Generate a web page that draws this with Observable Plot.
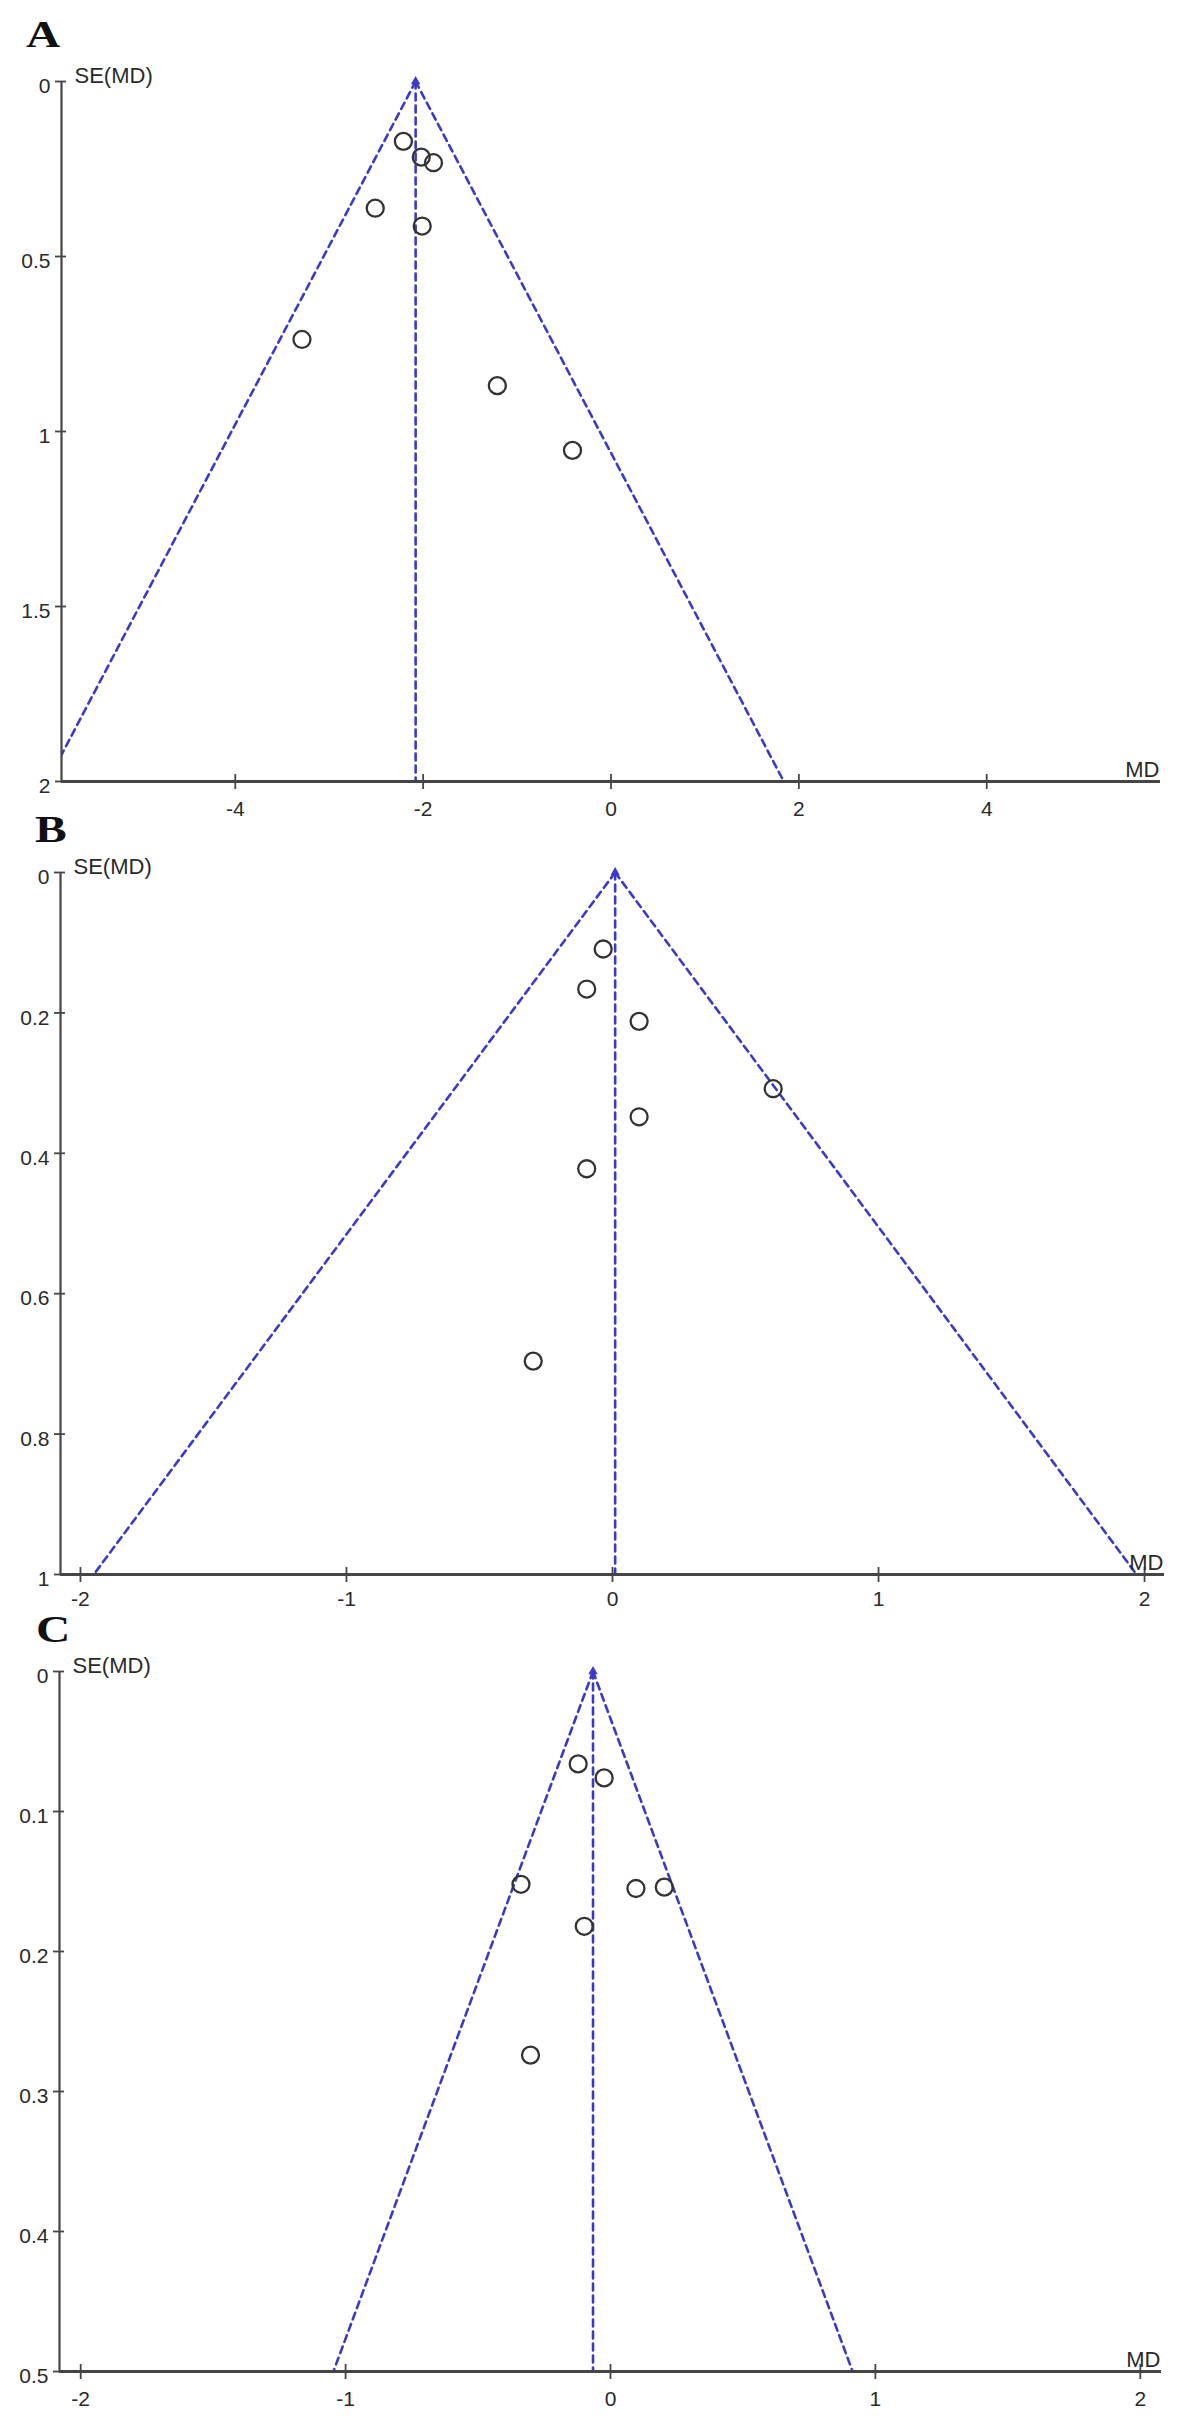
<!DOCTYPE html>
<html>
<head>
<meta charset="utf-8">
<script src="https://cdn.jsdelivr.net/npm/d3@7"></script>
<script src="https://cdn.jsdelivr.net/npm/@observablehq/plot@0.6"></script>
<style>
  body { margin: 0; background: #fff; }
  #wrap { position: relative; width: 1181px; height: 2422px; overflow: hidden; background: #fff; }
  .panel { position: absolute; left: 0; }
  .letter { position: absolute; font-family: "Liberation Serif", "Times New Roman", serif; font-weight: bold;
            font-size: 38px; line-height: 1; transform: scaleX(1.25); transform-origin: left top; color: #111; }
</style>
</head>
<body>
<div id="wrap"></div>
<script>
// ---------- data ----------
const panelLabels = ["A", "B", "C"];

// Panel A: study mean differences and their standard errors
const mdA = [-2.21, -2.02, -1.89, -2.51, -2.01, -3.29, -1.21, -0.41];
const seA = [0.171, 0.216, 0.232, 0.362, 0.413, 0.737, 0.869, 1.054];
// Panel B
const mdB = [-0.035, -0.097, 0.100, 0.604, 0.100, -0.097, -0.298];
const seB = [0.109, 0.166, 0.212, 0.308, 0.348, 0.422, 0.696];
// Panel C
const mdC = [-0.122, -0.024, -0.338, 0.096, 0.203, -0.099, -0.302];
const seC = [0.066, 0.076, 0.152, 0.155, 0.154, 0.182, 0.274];

// funnel (pooled estimate and pseudo-95% limits at the bottom of each plot)
const pooledMD   = [-2.08, 0.01, -0.066];
const seMax      = [2, 1, 0.5];
const lowerLimit = [-6.0, -1.95, -1.046];
const upperLimit = [1.84, 1.97, 0.914];

// axes
const xDomains = [[-5.85, 5.85], [-2.075, 2.075], [-2.08, 2.08]];
const xTicksA = [-4, -2, 0, 2, 4];
const xTicksB = [-2, -1, 0, 1, 2];
const xTicksC = [-2, -1, 0, 1, 2];
const yTicksA = [0, 0.5, 1, 1.5, 2];
const yTicksB = [0, 0.2, 0.4, 0.6, 0.8, 1];
const yTicksC = [0, 0.1, 0.2, 0.3, 0.4, 0.5];
const yLabel = "SE(MD)";
const xLabel = "MD";

// ---------- drawing ----------
const blue = "#3a3ac8";
const axisColor = "#454545";
const fmt = d => String(d);

function funnel(i, md, se, xTicks, yTicks, lay) {
  const pts = md.map((m, k) => ({md: m, se: se[k]}));
  const apex = {md: pooledMD[i], se: 0};
  const segs = [
    [apex, {md: lowerLimit[i], se: seMax[i]}],
    [apex, {md: pooledMD[i], se: seMax[i]}],
    [apex, {md: upperLimit[i], se: seMax[i]}]
  ].flatMap((s, j) => s.map(p => ({...p, g: j})));

  return Plot.plot({
    width: 1181,
    height: lay.height,
    marginTop: lay.top,
    marginBottom: lay.bottom,
    marginLeft: lay.left,
    marginRight: lay.right,
    style: {fontFamily: "'Liberation Sans', Arial, sans-serif", fontSize: "21px", color: "#2a2a2a", background: "transparent", overflow: "visible"},
    x: {domain: xDomains[i]},
    y: {domain: [0, seMax[i]], reverse: true},
    marks: [
      Plot.line(segs, {x: "md", y: "se", z: "g", stroke: blue, strokeWidth: 2.6, strokeDasharray: "7,5", clip: true}),
      Plot.dot([apex], {x: "md", y: "se", symbol: "triangle", r: 3.5, fill: blue}),
      Plot.dot(pts, {x: "md", y: "se", r: 8.5, stroke: "#333", strokeWidth: 2.3, fill: "none"}),
      Plot.ruleX([xDomains[i][0]], {stroke: axisColor, strokeWidth: 2.2}),
      Plot.ruleY([seMax[i]], {stroke: axisColor, strokeWidth: 2.8}),
      // x ticks crossing the axis line
      Plot.axisX({ticks: xTicks, tickSize: 15, dy: -7, fill: "none", stroke: axisColor, strokeWidth: 1.8, label: null}),
      Plot.axisX({ticks: xTicks, tickSize: 0, tickPadding: lay.xPad, stroke: "none", tickFormat: fmt, label: null}),
      // y ticks crossing the axis line
      Plot.axisY({ticks: yTicks, tickSize: 11, dx: 5, fill: "none", stroke: axisColor, strokeWidth: 1.8, label: null}),
      Plot.axisY({ticks: yTicks, tickSize: 0, tickPadding: 11, dy: 5, stroke: "none", tickFormat: fmt, label: null}),
      Plot.text([yLabel], {frameAnchor: "top-left", textAnchor: "start", lineAnchor: "bottom", dx: 13, dy: 1, fontSize: 22, fill: "#2a2a2a"}),
      Plot.text([xLabel], {frameAnchor: "bottom-right", textAnchor: "end", lineAnchor: "bottom", dx: -1, dy: -5, fontSize: 22, fill: "#2a2a2a"})
    ]
  });
}

const wrap = document.getElementById("wrap");
const layouts = [
  {y: 0,    height: 820, top: 81, bottom: 39, left: 61, right: 21, xPad: 20, letterTop: 15,   letterLeft: 26},
  {y: 820,  height: 792, top: 52, bottom: 38, left: 60, right: 17, xPad: 17, letterTop: 810,  letterLeft: 35},
  {y: 1612, height: 810, top: 59, bottom: 51, left: 59, right: 20, xPad: 20, letterTop: 1610, letterLeft: 36}
];
const datasets = [
  [mdA, seA, xTicksA, yTicksA],
  [mdB, seB, xTicksB, yTicksB],
  [mdC, seC, xTicksC, yTicksC]
];

datasets.forEach(([md, se, xt, yt], i) => {
  const lay = layouts[i];
  const svg = funnel(i, md, se, xt, yt, lay);
  svg.classList.add("panel");
  svg.style.top = lay.y + "px";
  wrap.appendChild(svg);
});
layouts.forEach((lay, i) => {
  const d = document.createElement("div");
  d.className = "letter";
  d.style.top = lay.letterTop + "px";
  d.style.left = lay.letterLeft + "px";
  d.textContent = panelLabels[i];
  wrap.appendChild(d);
});
</script>
</body>
</html>
